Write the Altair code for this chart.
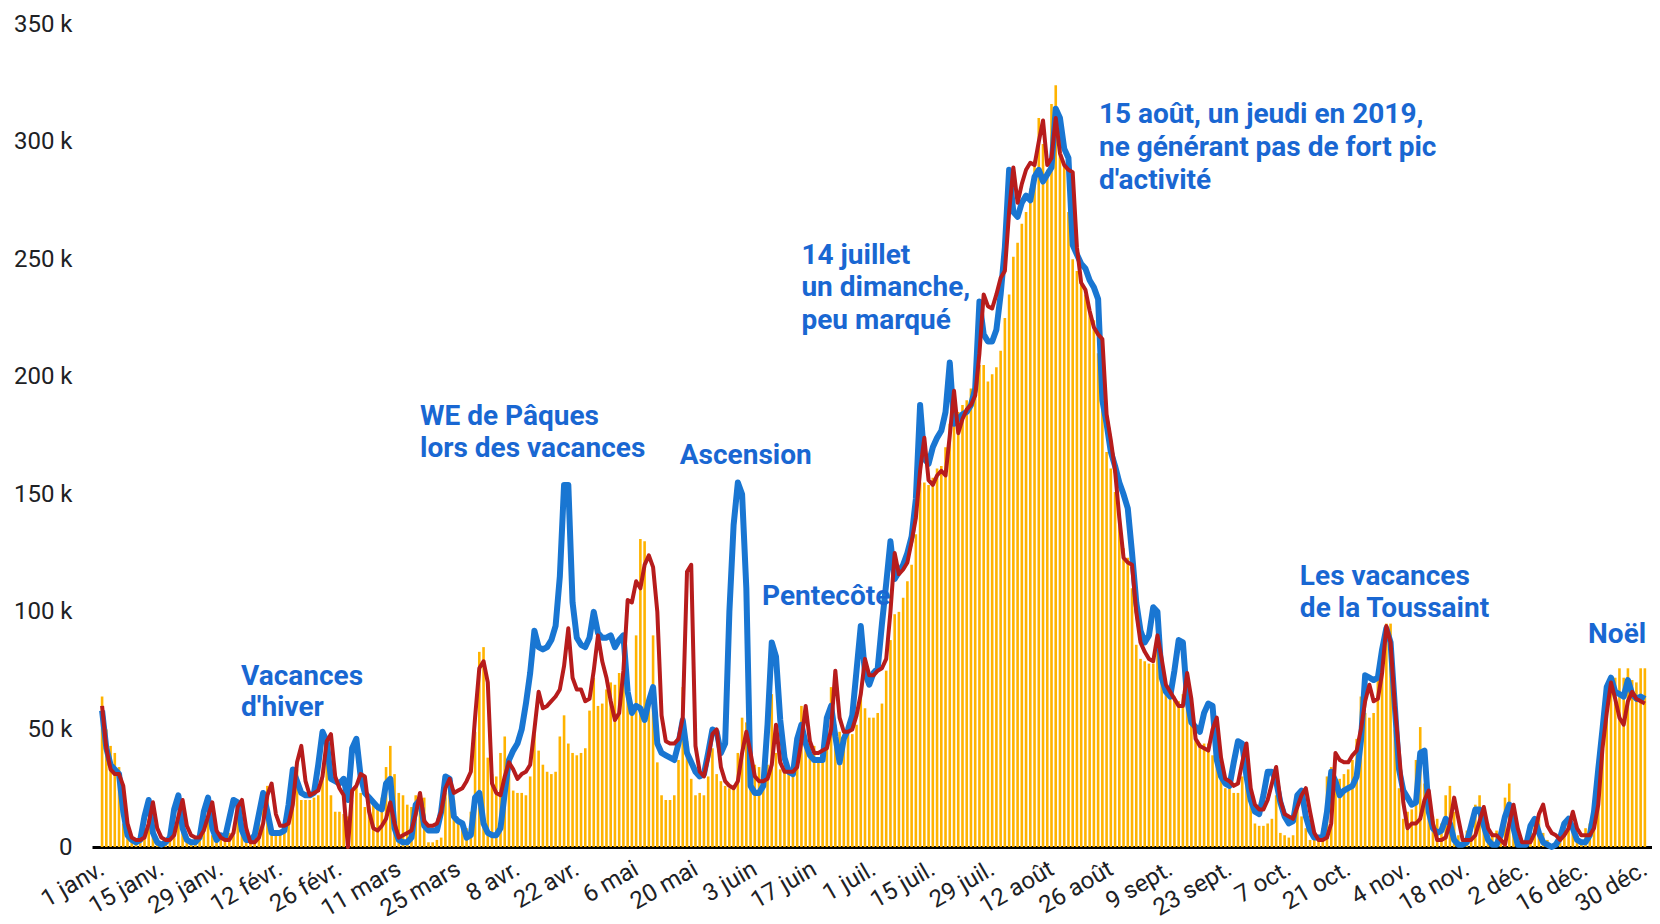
import json
import altair as alt
import pandas as pd

tick_labels = ["1 janv.", "15 janv.", "29 janv.", "12 févr.", "26 févr.", "11 mars", "25 mars",
               "8 avr.", "22 avr.", "6 mai", "20 mai", "3 juin", "17 juin", "1 juil.", "15 juil.",
               "29 juil.", "12 août", "26 août", "9 sept.", "23 sept.", "7 oct.", "21 oct.",
               "4 nov.", "18 nov.", "2 déc.", "16 déc.", "30 déc."]
tick_days = list(range(0, 365, 14))

# daily values, in thousands (k)
blue_line = (
    [58,42,35,33,31,15,5,3,2,3,13,20,6,2,1,2,4,16,22,8,3,2,2,4,15,21,8,3,5,4,12]
    + [20,19,7,3,3,5,14,23,15,6,6,6,7,18,33,28,23,22,22,23,35,49,45,29,28,27,29,20,42,46,30]
    + [23,21,19,17,16,27,29,8,3,2,2,4,18,20,9,7,7,7,15,30,29,13,11,10,4,5,21,23,10,6]
    + [5,5,8,23,37,41,44,50,61,74,92,85,84,85,88,94,115,154,154,104,89,86,85,89,100,91,89,89,90,85]
    + [88,90,66,57,60,59,54,62,68,44,40,39,38,37,44,54,40,36,32,30,31,40,50,49,40,44,100,137,155,150,110]
    + [26,23,23,26,52,87,81,54,38,32,31,46,52,44,39,37,37,37,55,60,47,36,46,50,56,75,94,74,69,74,76]
    + [95,112,130,114,117,120,125,132,148,188,165,163,170,174,177,185,206,180,182,184,185,188,195,232,218,215,215,220,235,255,288]
    + [270,268,274,277,275,285,288,283,286,289,314,310,297,293,256,252,248,246,241,238,233,190,180,168,162,155,150,144,125,104,92,87]
    + [90,102,100,72,66,64,75,88,87,63,53,51,49,57,61,60,37,30,27,26,36,45,44,30,20,15,14,22,32,32]
    + [28,19,13,10,11,22,24,13,7,4,4,4,15,32,28,22,24,25,26,30,45,73,72,71,72,84,93,87,60,33,24]
    + [21,18,19,40,41,15,8,6,7,12,10,3,1,1,2,9,16,16,9,3,1,1,5,13,18,8,1,1,1,9,12]
    + [6,2,1,0,1,4,10,12,8,3,2,2,5,15,33,50,68,72,66,65,64,71,65,63,64,63]
)

red_line = (
    [60,42,33,31,31,26,10,4,3,3,4,10,19,8,4,3,3,5,13,20,9,5,4,4,7,13,19,7,4,3,3]
    + [6,17,20,8,2,2,4,10,22,27,14,9,9,10,18,36,43,28,22,23,24,30,45,48,30,25,22,0,24,26,31]
    + [30,15,8,7,9,12,19,10,4,5,6,7,14,23,11,9,9,10,15,25,29,23,24,25,28,32,55,76,79,70]
    + [27,23,22,30,36,33,29,31,32,35,50,66,59,60,62,64,67,77,93,72,67,67,62,63,75,90,79,72,62,54]
    + [57,75,105,104,113,110,120,124,119,100,56,45,44,44,46,55,117,120,43,32,30,38,48,50,34,28,26,25,28,40,49]
    + [40,30,28,28,29,35,52,36,32,32,32,34,45,60,45,40,40,41,42,50,75,55,49,49,50,56,65,80,73,73,75]
    + [76,80,100,125,116,118,121,130,140,160,174,156,154,158,160,158,175,194,176,182,186,188,192,210,235,230,229,235,242,245,270]
    + [289,274,282,288,291,290,300,309,290,293,310,295,290,288,287,255,240,237,228,221,218,216,184,173,160,140,123,121,120,100,87,83]
    + [80,79,90,80,69,66,63,60,60,74,63,46,43,42,41,50,55,38,29,28,26,27,36,44,25,18,16,16,20,27]
    + [34,20,14,13,12,17,22,25,15,6,3,3,4,10,40,37,36,36,39,41,50,62,69,62,63,74,94,87,60,40,19]
    + [8,10,10,12,20,24,10,3,3,4,10,21,12,3,3,3,5,11,17,8,5,5,3,1,10,18,8,2,2,2,6]
    + [14,18,9,6,5,3,5,8,15,8,5,5,5,8,18,42,57,70,63,55,52,62,66,63,62,61]
)

bar_values = (
    [64,50,43,40,34,10,5,4,3,4,8,12,6,3,2,3,5,8,12,6,3,3,3,6,9,12,5,3,3,3,6]
    + [5,12,10,4,3,4,10,20,26,8,7,7,8,15,26,33,20,20,20,21,22,30,36,22,15,15,14,13,20,26,23]
    + [17,19,19,17,21,34,43,31,23,22,18,17,22,22,21,2,2,3,4,23,29,20,10,10,8,15,49,83,85,38]
    + [31,30,40,47,31,24,23,23,22,30,48,41,35,32,31,32,47,56,44,40,39,40,42,58,72,60,61,67,70,69]
    + [74,75,68,57,90,131,130,60,90,36,22,20,20,22,37,68,45,29,22,23,22,30,42,31,28,26,25,25,40,55,53]
    + [37,35,34,34,35,65,40,33,33,32,33,42,60,45,44,43,37,37,50,68,52,49,45,48,48,52,65,59,55,55,57]
    + [61,75,88,99,100,106,113,120,133,155,155,154,157,161,162,170,180,188,185,188,190,195,200,205,205,198,201,204,211,225,235]
    + [251,257,265,270,280,292,310,299,288,316,324,310,290,270,250,245,239,235,228,224,210,190,168,161,151,140,127,123,110,86,80,79]
    + [78,78,88,75,69,66,64,62,65,70,55,48,44,44,44,39,50,31,25,25,23,23,30,36,19,10,9,9,10,12]
    + [22,6,5,4,5,20,13,8,3,3,4,8,30,34,25,29,31,33,37,46,64,57,55,57,75,85,95,95,50,25,12]
    + [15,16,37,51,27,18,13,12,10,22,26,15,5,3,7,9,18,22,12,10,6,7,3,21,27,15,3,3,3,6,12]
    + [14,6,3,1,1,4,6,12,8,4,3,8,10,20,30,45,58,68,72,76,72,76,71,70,76,76]
)

ann_text = ["Vacances", "d'hiver", "WE de Pâques", "lors des vacances", "Ascension", "Pentecôte",
            "14 juillet", "un dimanche,", "peu marqué",
            "15 août, un jeudi en 2019,", "ne générant pas de fort pic", "d'activité",
            "Les vacances", "de la Toussaint", "Noël"]
ann_day = [32.8, 32.8, 75.0, 75.0, 136.3, 155.7, 165.0, 165.0, 165.0, 235.2, 235.2, 235.2, 282.6, 282.6, 350.6]
ann_value = [72.5, 59.0, 182.8, 169.3, 166.1, 106.3, 251.3, 237.8, 223.8, 311.1, 297.2, 283.2, 114.8, 101.3, 90.0]

days = list(range(len(bar_values)))
bars_df = pd.DataFrame({"day": days, "value": bar_values})
blue_df = pd.DataFrame({"day": days, "value": blue_line})
red_df = pd.DataFrame({"day": days, "value": red_line})
ann_df = pd.DataFrame({"day": ann_day, "value": ann_value, "text": ann_text})

FONT = "Roboto"
xscale = alt.Scale(domain=[-1.2, 364.5], nice=False, zero=False)
yscale = alt.Scale(domain=[0, 350], nice=False)

x_axis = alt.Axis(values=tick_days, labelExpr=json.dumps(tick_labels) + "[round(datum.value / 14)]",
                  labelAngle=-30, labelAlign="right", labelBaseline="middle", labelFontSize=24,
                  labelFont=FONT, labelColor="#202124", ticks=False, grid=False,
                  domainColor="#000000", domainWidth=3, labelPadding=20, labelOverlap=False,
                  labelFlush=False, labelBound=False, title=None)
y_axis = alt.Axis(values=[0, 50, 100, 150, 200, 250, 300, 350],
                  labelExpr="datum.value == 0 ? '0' : datum.value + ' k'",
                  domain=False, ticks=False, grid=False, labelFontSize=24, labelFont=FONT,
                  labelColor="#202124", labelPadding=20, title=None)

bars = alt.Chart(bars_df).mark_bar(size=2.6, color="#FFB300").encode(
    x=alt.X("day:Q", scale=xscale, axis=x_axis),
    y=alt.Y("value:Q", scale=yscale, axis=y_axis),
)
blue = alt.Chart(blue_df).mark_line(color="#1976D2", strokeWidth=6, strokeJoin="round").encode(
    x=alt.X("day:Q", scale=xscale), y=alt.Y("value:Q", scale=yscale))
red = alt.Chart(red_df).mark_line(color="#B71C1C", strokeWidth=4, strokeJoin="round").encode(
    x=alt.X("day:Q", scale=xscale), y=alt.Y("value:Q", scale=yscale))
ann = alt.Chart(ann_df).mark_text(align="left", baseline="middle", fontSize=28, fontWeight="bold",
                                  font=FONT, color="#1967D2").encode(
    x=alt.X("day:Q", scale=xscale), y=alt.Y("value:Q", scale=yscale), text="text:N")

chart = alt.layer(bars, blue, red, ann).properties(
    width=1560, height=823,
    autosize=alt.AutoSizeParams(type="none"),
    padding={"left": 84, "top": 16, "right": 0, "bottom": 69},
).configure_view(stroke=None)

chart.save("out.html", embed_options={"renderer": "svg", "actions": False})
